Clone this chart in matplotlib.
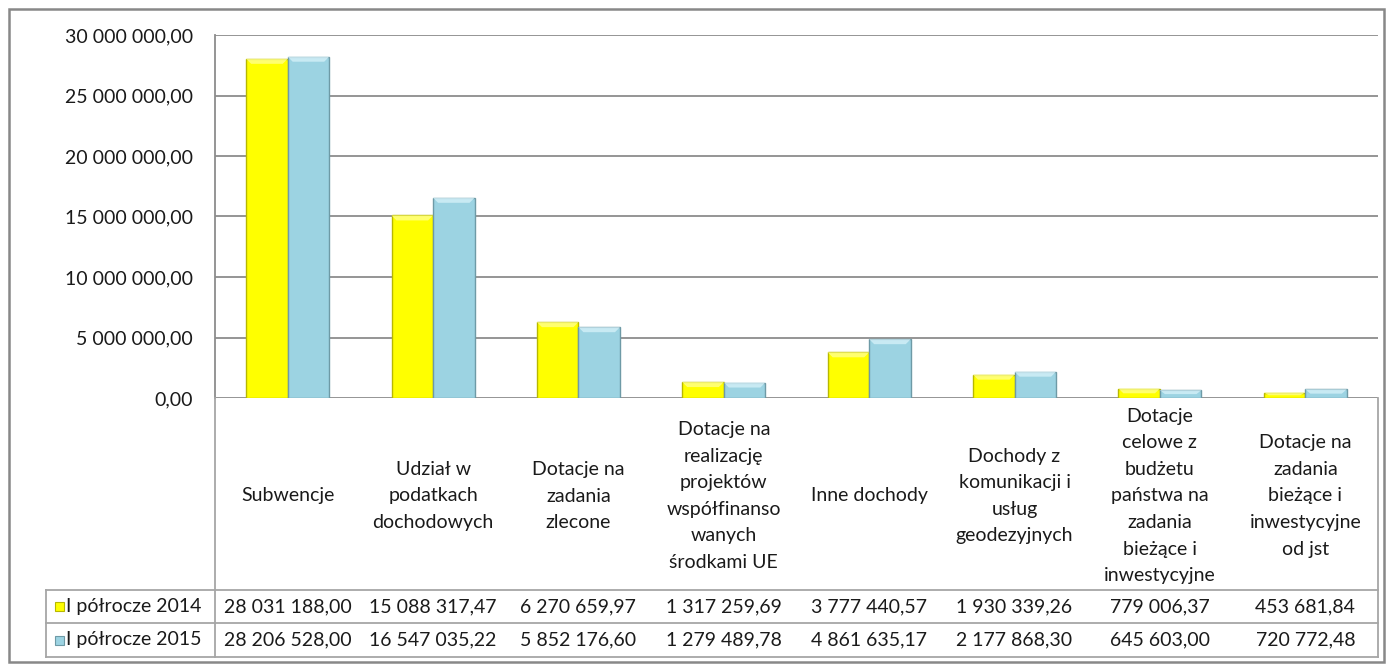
import numpy as np
import matplotlib.pyplot as plt
from matplotlib.patches import Rectangle, Polygon

plt.rcParams['font.family'] = ['Lato', 'DejaVu Sans']

categories = [
    "Subwencje",
    "Udział w\npodatkach\ndochodowych",
    "Dotacje na\nzadania\nzlecone",
    "Dotacje na\nrealizację\nprojektów\nwspółfinanso\nwanych\nśrodkami UE",
    "Inne dochody",
    "Dochody z\nkomunikacji i\nusług\ngeodezyjnych",
    "Dotacje\ncelowe z\nbudżetu\npaństwa na\nzadania\nbieżące i\ninwestycyjne",
    "Dotacje na\nzadania\nbieżące i\ninwestycyjne\nod jst",
]
series_names = ["I półrocze 2014", "I półrocze 2015"]
values_2014 = [28031188.00, 15088317.47, 6270659.97, 1317259.69,
               3777440.57, 1930339.26, 779006.37, 453681.84]
values_2015 = [28206528.00, 16547035.22, 5852176.60, 1279489.78,
               4861635.17, 2177868.30, 645603.00, 720772.48]
y_ticks = [0, 5e6, 10e6, 15e6, 20e6, 25e6, 30e6]

colors = ['#FFFF00', '#9CD3E2']
edges = ['#B8B800', '#6E9AA6']
tops = ['#FFFF8C', '#D4F0F8']
grid_c = '#8C8C8C'
tab_c = '#A6A6A6'
txt_c = '#1A1A1A'
FS = 14


def pl(v):
    return f"{v:,.2f}".replace(",", " ").replace(".", ",")


W, H = 1392, 666
fig = plt.figure(figsize=(W / 100, H / 100), dpi=100)


def fx(px):
    return px / W


def fy(py):
    return 1 - py / H


# pixel layout
L, R, T, B = 215, 1378, 35, 398
ROW1, ROW2, ROW3 = 590, 623, 657
LEG_L = 46

# outer frame
fig.patches.append(Rectangle((fx(9), fy(662)), fx(1384) - fx(9), fy(9) - fy(662),
                             transform=fig.transFigure, fill=False,
                             edgecolor='#888888', linewidth=1.8))

ax = fig.add_axes([fx(L), fy(B), fx(R) - fx(L), fy(T) - fy(B)])
x = np.arange(len(categories))
w = 1 / 3.5
px_x = (R - L) / len(categories)
px_y = 30e6 / (B - T)

for k, vals in enumerate([values_2014, values_2015]):
    xs = x + (k - 0.5) * w
    ax.bar(xs, vals, width=w, color=colors[k], edgecolor=edges[k],
           linewidth=1.0, zorder=3)
    # bevel highlight on top
    bx, by = 5 / px_x, 5 * px_y
    for xi, v in zip(xs, vals):
        h = min(by, v * 0.5)
        poly = Polygon([(xi - w / 2, v), (xi + w / 2, v),
                        (xi + w / 2 - bx, v - h), (xi - w / 2 + bx, v - h)],
                       closed=True, facecolor=tops[k], edgecolor='none',
                       alpha=0.8, zorder=4)
        ax.add_patch(poly)

ax.set_xlim(-0.5, len(categories) - 0.5)
ax.set_ylim(0, 30e6)
ax.set_yticks(y_ticks)
ax.set_yticklabels([pl(t) for t in y_ticks], fontsize=FS, color=txt_c)
ax.tick_params(axis='y', length=0, pad=16)
ax.set_xticks([])
ax.grid(axis='y', color=grid_c, linewidth=1.3, zorder=0)
for s in ['top', 'right', 'bottom']:
    ax.spines[s].set_visible(False)
ax.spines['left'].set_color(grid_c)
ax.spines['left'].set_linewidth(1.3)

# data table area
tax = fig.add_axes([fx(L), fy(ROW3), fx(R) - fx(L), fy(B) - fy(ROW3)])
tax.set_xlim(-0.5, len(categories) - 0.5)
tax.set_ylim(ROW3, B)
tax.axis('off')


def dx(px):
    return -0.5 + (px - L) / px_x


lk = dict(color=tab_c, linewidth=1.3, clip_on=False)
tax.plot([dx(L), dx(L)], [B, ROW3], **lk)
tax.plot([dx(R), dx(R)], [B, ROW3], **lk)
tax.plot([dx(LEG_L), dx(LEG_L)], [ROW1, ROW3], **lk)
for yy in [ROW1, ROW2, ROW3]:
    tax.plot([dx(LEG_L), dx(R)], [yy, yy], **lk)

for i, c in enumerate(categories):
    tax.text(i, (B + ROW1) / 2 + 2, c, ha='center', va='center',
             fontsize=FS, color=txt_c, linespacing=1.69)

for k, (name, vals) in enumerate(zip(series_names, [values_2014, values_2015])):
    yc = [(ROW1 + ROW2) / 2, (ROW2 + ROW3) / 2][k]
    tax.add_patch(Rectangle((dx(55), yc - 4.5), 9 / px_x, 9, facecolor=colors[k],
                            edgecolor=edges[k], linewidth=0.8, clip_on=False))
    tax.text(dx(66), yc, name, ha='left', va='center', fontsize=FS, color=txt_c)
    for i, v in enumerate(vals):
        tax.text(i, yc, pl(v), ha='center', va='center', fontsize=FS, color=txt_c)

fig.savefig('out.png', dpi=100)
